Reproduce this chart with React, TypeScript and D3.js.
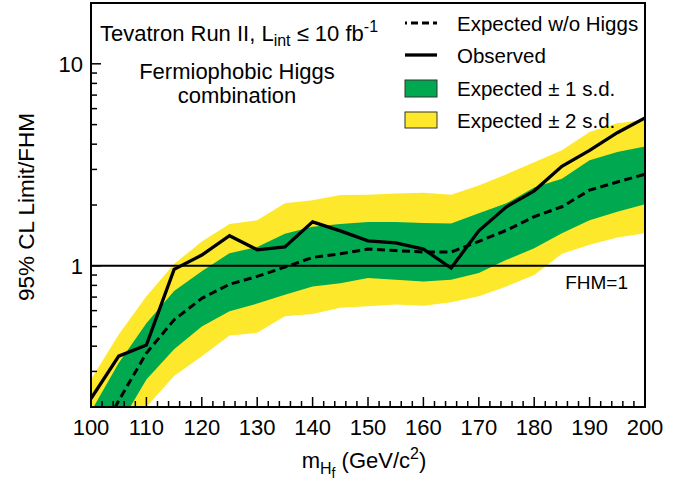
import React from "react";
import * as d3 from "d3";

const mass = [100, 105, 110, 115, 120, 125, 130, 135, 140, 145, 150, 155, 160, 165, 170, 175, 180, 185, 190, 195, 200];
const observed = [0.22, 0.357, 0.405, 0.96, 1.13, 1.41, 1.2, 1.24, 1.65, 1.49, 1.33, 1.3, 1.21, 0.975, 1.49, 1.96, 2.35, 3.11, 3.73, 4.56, 5.4];
const expected = [0.12, 0.215, 0.37, 0.54, 0.69, 0.81, 0.886, 0.985, 1.1, 1.146, 1.21, 1.19, 1.17, 1.17, 1.32, 1.5, 1.75, 1.96, 2.37, 2.6, 2.84];
const plus1 = [0.19, 0.33, 0.52, 0.75, 0.94, 1.155, 1.24, 1.44, 1.56, 1.61, 1.65, 1.65, 1.63, 1.62, 1.82, 2.04, 2.44, 2.7, 3.33, 3.66, 3.9];
const minus1 = [0.09, 0.16, 0.274, 0.386, 0.5, 0.596, 0.65, 0.72, 0.79, 0.82, 0.87, 0.853, 0.837, 0.853, 0.92, 1.07, 1.22, 1.45, 1.68, 1.85, 2.02];
const plus2 = [0.274, 0.457, 0.706, 1.02, 1.32, 1.61, 1.68, 2.04, 2.11, 2.24, 2.25, 2.28, 2.3, 2.25, 2.5, 2.84, 3.26, 3.73, 4.59, 5.08, 5.28];
const minus2 = [0.08, 0.13, 0.2, 0.285, 0.357, 0.452, 0.466, 0.563, 0.578, 0.62, 0.63, 0.643, 0.635, 0.66, 0.706, 0.79, 0.9, 1.146, 1.27, 1.38, 1.45];

const xMajorTicks = [100, 110, 120, 130, 140, 150, 160, 170, 180, 190, 200];
const yMajorTicks = [1, 10];
const yMinorTicks = [0.3, 0.4, 0.5, 0.6, 0.7, 0.8, 0.9, 2, 3, 4, 5, 6, 7, 8, 9];
const fhmLevel = 1;

const W = 688;
const H = 482;
const L = 91, R = 645, T = 3, B = 407;
const FONT = "'Liberation Sans', Arial, Helvetica, sans-serif";
const GREEN = "#00a850";
const YELLOW = "#fde82c";
const LEG_FS = 20.5;

export default function App() {
  const x = d3.scaleLinear().domain([100, 200]).range([L, R]);
  const y = d3.scaleLog().domain([0.2, 20]).range([B, T]);
  const xMinorTicks = d3.range(100, 201, 2).filter((v) => v % 10 !== 0);

  const idx = mass.map((_, i) => i);
  const band = (lo: number[], hi: number[]) =>
    d3
      .area<number>()
      .x((i) => x(mass[i]))
      .y0((i) => y(lo[i]))
      .y1((i) => y(hi[i]))(idx) || "";
  const line = (vals: number[]) =>
    d3
      .line<number>()
      .x((i) => x(mass[i]))
      .y((i) => y(vals[i]))(idx) || "";

  return (
    <svg
      width={W}
      height={H}
      style={{ position: "absolute", left: 0, top: 0, background: "#fff" }}
      fontFamily={FONT}
    >
      <defs>
        <clipPath id="plotclip">
          <rect x={L} y={T} width={R - L} height={B - T} />
        </clipPath>
      </defs>
      <rect x={0} y={0} width={W} height={H} fill="#fff" />
      <g clipPath="url(#plotclip)">
        <path d={band(minus2, plus2)} fill={YELLOW} />
        <path d={band(minus1, plus1)} fill={GREEN} />
        <line x1={L} x2={R} y1={y(fhmLevel)} y2={y(fhmLevel)} stroke="#000" strokeWidth={2} />
        <path d={line(expected)} fill="none" stroke="#000" strokeWidth={3} strokeDasharray="8,4.5" />
        <path d={line(observed)} fill="none" stroke="#000" strokeWidth={3.3} strokeLinejoin="miter" />
      </g>

      {/* ticks */}
      {xMajorTicks.map((v) => (
        <line key={"xM" + v} x1={x(v)} x2={x(v)} y1={B} y2={B - 10} stroke="#000" strokeWidth={1.5} />
      ))}
      {xMinorTicks.map((v) => (
        <line key={"xm" + v} x1={x(v)} x2={x(v)} y1={B} y2={B - 6} stroke="#000" strokeWidth={1.5} />
      ))}
      {yMajorTicks.map((v) => (
        <line key={"yM" + v} x1={L} x2={L + 10} y1={y(v)} y2={y(v)} stroke="#000" strokeWidth={1.5} />
      ))}
      {yMinorTicks.map((v) => (
        <line key={"ym" + v} x1={L} x2={L + 6} y1={y(v)} y2={y(v)} stroke="#000" strokeWidth={1.5} />
      ))}

      <rect x={L} y={T} width={R - L} height={B - T} fill="none" stroke="#000" strokeWidth={2} />

      {/* tick labels */}
      {xMajorTicks.map((v) => (
        <text key={"xl" + v} x={x(v)} y={435} fontSize={22} textAnchor="middle" fill="#000">
          {v}
        </text>
      ))}
      {yMajorTicks.map((v) => (
        <text key={"yl" + v} x={83} y={y(v) + 8} fontSize={22} textAnchor="end" fill="#000">
          {v}
        </text>
      ))}

      {/* axis titles */}
      <text x={364} y={468} fontSize={22} textAnchor="middle" fill="#000">
        m
        <tspan fontSize={16} dy={6}>H</tspan>
        <tspan fontSize={14} dy={4}>f</tspan>
        <tspan fontSize={22} dy={-10}> (GeV/c</tspan>
        <tspan fontSize={16} dy={-9}>2</tspan>
        <tspan fontSize={22} dy={9}>)</tspan>
      </text>
      <text transform="translate(34,207) rotate(-90)" fontSize={22.5} textAnchor="middle" fill="#000">
        95% CL Limit/FHM
      </text>

      {/* annotations */}
      <text x={100} y={41} fontSize={22} fill="#000">
        Tevatron Run II, L
        <tspan fontSize={16} dy={5}>int</tspan>
        <tspan fontSize={22} dy={-5}> ≤ 10 fb</tspan>
        <tspan fontSize={16} dy={-9}>-1</tspan>
      </text>
      <text x={237} y={79} fontSize={22} textAnchor="middle" fill="#000">
        Fermiophobic Higgs
      </text>
      <text x={237} y={103} fontSize={22} textAnchor="middle" fill="#000">
        combination
      </text>
      <text x={628} y={289} fontSize={19} textAnchor="end" fill="#000">
        FHM=1
      </text>

      {/* legend */}
      <line x1={405} x2={437} y1={23} y2={23} stroke="#000" strokeWidth={3} strokeDasharray="7,4" strokeDashoffset={5} />
      <text x={457} y={31} fontSize={LEG_FS} fill="#000">Expected w/o Higgs</text>
      <line x1={405} x2={437} y1={55} y2={55} stroke="#000" strokeWidth={3.3} />
      <text x={457} y={63} fontSize={LEG_FS} fill="#000">Observed</text>
      <rect x={405} y={80} width={32} height={17} fill={GREEN} stroke="#333" strokeWidth={1} />
      <text x={457} y={96} fontSize={LEG_FS} fill="#000">Expected ± 1 s.d.</text>
      <rect x={405} y={112} width={32} height={16} fill={YELLOW} stroke="#333" strokeWidth={1} />
      <text x={457} y={128} fontSize={LEG_FS} fill="#000">Expected ± 2 s.d.</text>
    </svg>
  );
}
